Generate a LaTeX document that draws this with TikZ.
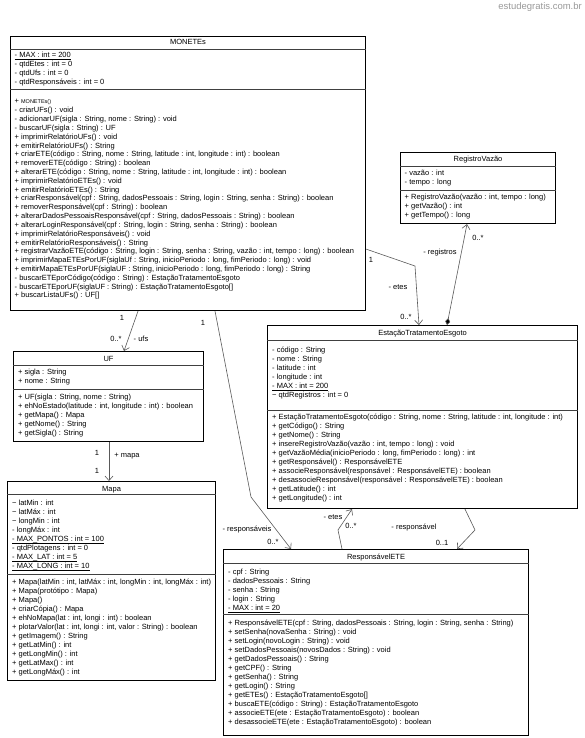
\documentclass[tikz,border=0pt]{standalone}
\usepackage{fontspec}
\setmainfont{Liberation Sans}
\usetikzlibrary{arrows.meta}
\newcommand{\umlfont}{\fontsize{7.5}{9}\selectfont}
\newcommand{\firstln}{\rule{0pt}{6.5pt}}
\newcommand{\staticmember}[1]{\setbox0\hbox{#1}\rlap{\rule[-1.3pt]{\wd0}{0.5pt}}\box0}

\begin{document}
\begin{tikzpicture}[x=1pt, y=-1pt, every node/.style={font=\umlfont, inner sep=0pt},
  classbox/.style={draw, line width=1.1pt, anchor=north west},
  members/.style={anchor=north west, align=left},
  title/.style={anchor=base},
  sepline/.style={line width=0.6pt, black!75},
  assoc/.style={line width=0.6pt, black!65, -{Straight Barb[length=4.5pt,width=8pt]}},
  comp/.style={line width=0.6pt, black!65, {Diamond[length=7pt,width=5pt,fill=black]}-{Straight Barb[length=4.5pt,width=8pt]}}]
\useasboundingbox (0,0) rectangle (584,738);

\node (wm) [font=\fontsize{9.5}{10}\selectfont, text=black!40, anchor=east] at (582,7) {estudegratis.com.br};

% MONETEs
\node (mon) [classbox, minimum width=355, minimum height=274] at (10,36) {};
\node (monT) [title] at ([yshift=-9]mon.north) {MONETEs};
\draw[sepline] ([yshift=-13]mon.north west) -- ([yshift=-13]mon.north east);
\draw[sepline] ([yshift=-53]mon.north west) -- ([yshift=-53]mon.north east);
\node (monA) [members] at ([shift={(4.5,15.2)}]mon.north west) {\firstln\staticmember{- MAX : int = 200}\\
- qtdEtes : int = 0\\
- qtdUfs : int = 0\\
- qtdResponsáveis : int = 0};
\node (monO) [members, font=\fontsize{7.5}{8.82}\selectfont] at ([shift={(4.5,61.2)}]mon.north west) {\firstln+ {\fontsize{5.5}{6}\selectfont MONETEs()}\\
- criarUFs() : void\\
- adicionarUF(sigla : String, nome : String) : void\\
- buscarUF(sigla : String) : UF\\
+ imprimirRelatórioUFs() : void\\
+ emitirRelatórioUFs() : String\\
+ criarETE(código : String, nome : String, latitude : int, longitude : int) : boolean\\
+ removerETE(código : String) : boolean\\
+ alterarETE(código : String, nome : String, latitude : int, longitude : int) : boolean\\
+ imprimirRelatórioETEs() : void\\
+ emitirRelatórioETEs() : String\\
+ criarResponsável(cpf : String, dadosPessoais : String, login : String, senha : String) : boolean\\
+ removerResponsável(cpf : String) : boolean\\
+ alterarDadosPessoaisResponsável(cpf : String, dadosPessoais : String) : boolean\\
+ alterarLoginResponsável(cpf : String, login : String, senha : String) : boolean\\
+ imprimirRelatórioResponsáveis() : void\\
+ emitirRelatórioResponsáveis() : String\\
+ registrarVazãoETE(código : String, login : String, senha : String, vazão : int, tempo : long) : boolean\\
+ imprimirMapaETEsPorUF(siglaUf : String, inicioPeriodo : long, fimPeriodo : long) : void\\
+ emitirMapaETEsPorUF(siglaUF : String, inicioPeriodo : long, fimPeriodo : long) : String\\
- buscarETEporCódigo(código : String) : EstaçãoTratamentoEsgoto\\
- buscarETEporUF(siglaUF : String) : EstaçãoTratamentoEsgoto[]\\
+ buscarListaUFs() : UF[]};

% RegistroVazao
\node (reg) [classbox, minimum width=155, minimum height=71] at (400,152) {};
\node (regT) [title] at ([yshift=-9.5]reg.north) {RegistroVazão};
\draw[sepline] ([yshift=-14]reg.north west) -- ([yshift=-14]reg.north east);
\draw[sepline] ([yshift=-38]reg.north west) -- ([yshift=-38]reg.north east);
\node (regA) [members] at ([shift={(4.5,17.2)}]reg.north west) {\firstln- vazão : int\\
- tempo : long};
\node (regO) [members] at ([shift={(4.5,41.2)}]reg.north west) {\firstln+ RegistroVazão(vazão : int, tempo : long)\\
+ getVazão() : int\\
+ getTempo() : long};

% EstacaoTratamentoEsgoto
\node (ete) [classbox, minimum width=310, minimum height=183] at (267,325) {};
\node (eteT) [title] at ([yshift=-10.5]ete.north) {EstaçãoTratamentoEsgoto};
\draw[sepline] ([yshift=-15]ete.north west) -- ([yshift=-15]ete.north east);
\draw[sepline] ([yshift=-85]ete.north west) -- ([yshift=-85]ete.north east);
\node (eteA) [members] at ([shift={(5,21.2)}]ete.north west) {\firstln- código : String\\
- nome : String\\
- latitude : int\\
- longitude : int\\
\staticmember{- MAX : int = 200}\\
\textasciitilde{} qtdRegistros : int = 0};
\node (eteO) [members] at ([shift={(5,88.2)}]ete.north west) {\firstln+ EstaçãoTratamentoEsgoto(código : String, nome : String, latitude : int, longitude : int)\\
+ getCódigo() : String\\
+ getNome() : String\\
+ insereRegistroVazão(vazão : int, tempo : long) : void\\
+ getVazãoMédia(inicioPeriodo : long, fimPeriodo : long) : int\\
+ getResponsável() : ResponsávelETE\\
+ associeResponsável(responsável : ResponsávelETE) : boolean\\
+ desassocieResponsável(responsável : ResponsávelETE) : boolean\\
+ getLatitude() : int\\
+ getLongitude() : int};

% UF
\node (uf) [classbox, minimum width=190, minimum height=90] at (13,351) {};
\node (ufT) [title] at ([yshift=-10.5]uf.north) {UF};
\draw[sepline] ([yshift=-14]uf.north west) -- ([yshift=-14]uf.north east);
\draw[sepline] ([yshift=-38]uf.north west) -- ([yshift=-38]uf.north east);
\node (ufA) [members] at ([shift={(5,17.2)}]uf.north west) {\firstln+ sigla : String\\
+ nome : String};
\node (ufO) [members] at ([shift={(5,42.2)}]uf.north west) {\firstln+ UF(sigla : String, nome : String)\\
+ ehNoEstado(latitude : int, longitude : int) : boolean\\
+ getMapa() : Mapa\\
+ getNome() : String\\
+ getSigla() : String};

% Mapa
\node (mapa) [classbox, minimum width=208, minimum height=199] at (7,481) {};
\node (mapaT) [title] at ([yshift=-10.5]mapa.north) {Mapa};
\draw[sepline] ([yshift=-13]mapa.north west) -- ([yshift=-13]mapa.north east);
\draw[sepline] ([yshift=-93]mapa.north west) -- ([yshift=-93]mapa.north east);
\node (mapaA) [members] at ([shift={(5,18.2)}]mapa.north west) {\firstln\textasciitilde{} latMin : int\\
\textasciitilde{} latMáx : int\\
\textasciitilde{} longMin : int\\
- longMáx : int\\
\staticmember{- MAX\_PONTOS : int = 100}\\
- qtdPlotagens : int = 0\\
\staticmember{- MAX\_LAT : int = 5}\\
\staticmember{- MAX\_LONG : int = 10}};
\node (mapaO) [members] at ([shift={(5,97.2)}]mapa.north west) {\firstln+ Mapa(latMin : int, latMáx : int, longMin : int, longMáx : int)\\
+ Mapa(protótipo : Mapa)\\
+ Mapa()\\
+ criarCópia() : Mapa\\
+ ehNoMapa(lat : int, longi : int) : boolean\\
+ plotarValor(lat : int, longi : int, valor : String) : boolean\\
+ getImagem() : String\\
+ getLatMin() : int\\
+ getLongMin() : int\\
+ getLatMax() : int\\
+ getLongMáx() : int};

% ResponsavelETE
\node (resp) [classbox, minimum width=305, minimum height=186] at (223,549) {};
\node (respT) [title] at ([yshift=-10.5]resp.north) {ResponsávelETE};
\draw[sepline] ([yshift=-14]resp.north west) -- ([yshift=-14]resp.north east);
\draw[sepline] ([yshift=-65]resp.north west) -- ([yshift=-65]resp.north east);
\node (respA) [members] at ([shift={(5,19.2)}]resp.north west) {\firstln- cpf : String\\
- dadosPessoais : String\\
- senha : String\\
- login : String\\
\staticmember{- MAX : int = 20}};
\node (respO) [members] at ([shift={(5,70.2)}]resp.north west) {\firstln+ ResponsávelETE(cpf : String, dadosPessoais : String, login : String, senha : String)\\
+ setSenha(novaSenha : String) : void\\
+ setLogin(novoLogin : String) : void\\
+ setDadosPessoais(novosDados : String) : void\\
+ getDadosPessoais() : String\\
+ getCPF() : String\\
+ getSenha() : String\\
+ getLogin() : String\\
+ getETEs() : EstaçãoTratamentoEsgoto[]\\
+ buscaETE(código : String) : EstaçãoTratamentoEsgoto\\
+ associeETE(ete : EstaçãoTratamentoEsgoto) : boolean\\
+ desassocieETE(ete : EstaçãoTratamentoEsgoto) : boolean};

% associations
\draw[assoc] ([xshift=128]mon.south west) -- ([xshift=111]uf.north west);
\node (mUfA) at (122,318) {1};
\node (mUfB) at (116,339) {0..*};
\node (rUf) at (141,339) {- ufs};

\draw[assoc] ([xshift=96]uf.south west) -- ([xshift=102]mapa.north west);
\node (mMapaA) at (97,453) {1};
\node (mMapaB) at (97,471) {1};
\node (rMapa) at (127,456) {+ mapa};

\draw[assoc] ([xshift=205]mon.south west) -- (251,497) -- ([xshift=68]resp.north west);
\node (mRespA) at (203,323) {1};
\node (rResp) at (247,530) {- responsáveis};
\node (mRespB) at (273,542) {0..*};

\draw[assoc] ([yshift=62]mon.south east) -- (415,266) -- ([xshift=152]ete.north west);
\node (mEteA) at (371,260) {1};
\node (rEte) at (398,287) {- etes};
\node (mEteB) at (406,317) {0..*};

\draw[comp] ([xshift=180]ete.north west) -- ([xshift=67]reg.south west);
\node (rReg) at (440,253) {- registros};
\node (mReg) at (478,238) {0..*};

\draw[assoc] ([xshift=119]resp.north west) -- (338,530) -- ([xshift=85]ete.south west);
\node (rEtes) at (333,517) {- etes};
\node (mEtes) at (351,526) {0..*};

\draw[assoc] ([xshift=198]ete.south west) -- (475,530) -- ([xshift=234]resp.north west);
\node (rResp2) at (414,528) {- responsável};
\node (mResp2) at (442,543) {0..1};
\end{tikzpicture}
\end{document}
